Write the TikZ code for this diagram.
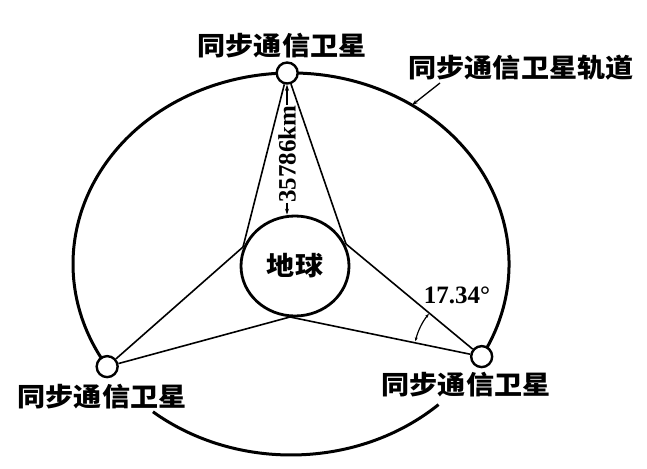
\documentclass[tikz,border=0pt]{standalone}
\usepackage{fontspec}
\setmainfont{Liberation Serif}
\newfontfamily\cjk{Noto Sans CJK SC}[FakeStretch=1.08]
\usetikzlibrary{shapes.geometric,arrows.meta,calc}
\begin{document}
\begin{tikzpicture}[x=1pt,y=1pt,
  orbit/.style={line width=3pt},
  ray/.style={line width=1.6pt},
  sat/.style={circle,draw,fill=white,line width=2.4pt,minimum size=21pt,inner sep=0pt},
  cjklabel/.style={font=\cjk\bfseries\fontsize{26}{30}\selectfont,inner sep=0pt},
  numlabel/.style={font=\bfseries\fontsize{25}{30}\selectfont,inner sep=0pt},
  tip/.style={-{Stealth[length=6pt,width=4pt]}}]
\useasboundingbox (0,0) rectangle (647,468);
\coordinate (O) at (291,204);
% orbit
\draw[orbit] ($(O)+(-29:218 and 191)$) arc[start angle=-29,end angle=212.5,x radius=218,y radius=191];
\draw[orbit] ($(O)+(230.7:218 and 191)$) arc[start angle=230.7,end angle=312.6,x radius=218,y radius=191];
% earth
\node[ellipse,draw,line width=2.8pt,minimum width=108pt,minimum height=100pt,inner sep=0pt,font=\cjk\bfseries\fontsize{26}{30}\selectfont] (earth) at (295,202) {地球};
% satellites
\node[sat] (st) at ($(O)+(91:218 and 191)$) {};
\node[sat] (sl) at ($(O)+(212.5:218 and 191)$) {};
\node[sat] (sr) at ($(O)+(-29:218 and 191)$) {};
% vertices near earth
\coordinate (vl) at (243,221);
\coordinate (vr) at (346,224);
\coordinate (vb) at (290,151);
\draw[ray] (st) -- (vl);
\draw[ray] (st) -- (vr);
\draw[ray] (sl) -- (vl);
\draw[ray] (sl) -- (vb);
\draw[ray] (sr) -- (vr);
\draw[ray] (sr) -- (vb);
% distance
\node[numlabel,rotate=90] (dist) at (287,314) {35786km};
\draw[tip,line width=1.2pt] (dist.west) -- (dist.west |- earth.north);
\draw[tip,line width=1.2pt] (dist.east) -- (dist.east |- st.south);
% angle
\draw[line width=1.2pt,{Stealth[length=4pt,width=3pt]}-{Stealth[length=4pt,width=3pt]}] ([shift={(141:68)}]sr.center) arc[start angle=141,end angle=167,radius=68];
\node[numlabel] (ang) at (457,173) {17.34°};
% labels
\node[cjklabel] (orbitlabel) at (521,400) {同步通信卫星轨道};
\coordinate (ptr) at (440,385);
\coordinate (orbitpt) at ($(O)+(56.3:218 and 191)$);
\draw[tip,line width=1.3pt] (ptr) -- (orbitpt);
\node[cjklabel] (lt) at (282,422) {同步通信卫星};
\node[cjklabel] (ll) at (102,71) {同步通信卫星};
\node[cjklabel] (lr) at (466,83) {同步通信卫星};
\end{tikzpicture}
\end{document}
